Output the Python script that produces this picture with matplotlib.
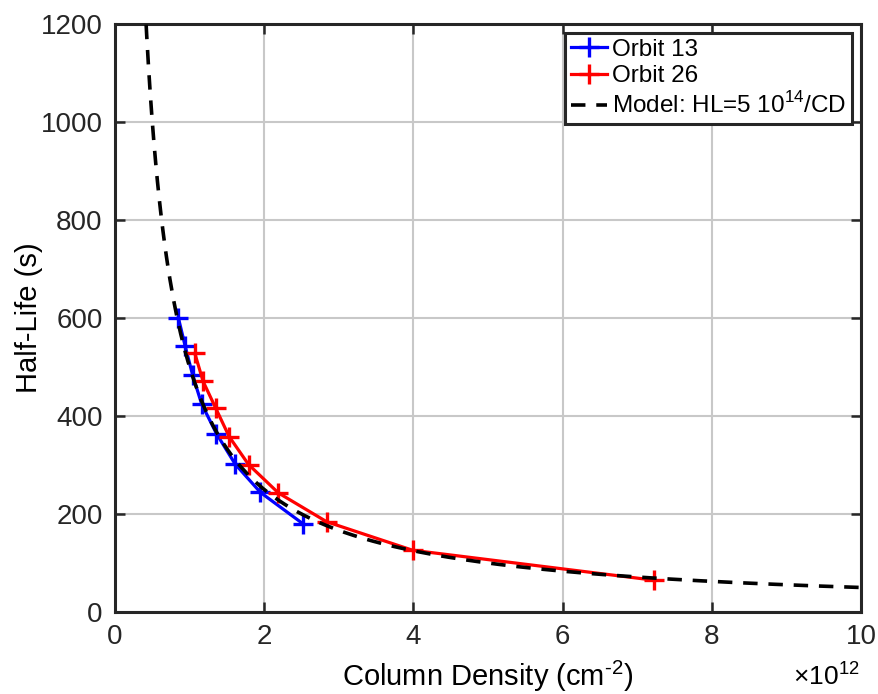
import numpy as np
import matplotlib
matplotlib.use("Agg")
from matplotlib import pyplot as plt

plt.rcParams['font.family'] = ['Liberation Sans', 'DejaVu Sans']
plt.rcParams['mathtext.fontset'] = 'custom'
plt.rcParams['mathtext.rm'] = 'Liberation Sans'

# column density in units of 1e12 cm^-2, half-life in s
orbit13_cd = [0.85, 0.94, 1.04, 1.16, 1.36, 1.61, 1.95, 2.52]
orbit13_hl = [600, 543, 484, 425, 364, 302, 244, 180]
orbit26_cd = [1.07, 1.18, 1.35, 1.53, 1.79, 2.19, 2.84, 3.99, 7.22]
orbit26_hl = [528, 471, 416, 358, 301, 243, 184, 126, 65]
model_coef = 5e14 / 1e12  # HL = 5 10^14 / CD

cd_model = np.linspace(0.4, 10, 400)
hl_model = model_coef / cd_model

fig = plt.figure(figsize=(8.79, 6.94), dpi=100)
ax = fig.add_axes([115/879, 1 - 612/694, (861-115)/879, (612-24)/694])

ax.plot(orbit13_cd, orbit13_hl, color='#0000ff', lw=2.3, marker='+', ms=14, mew=2.4,
        label='Orbit 13', zorder=3)
ax.plot(orbit26_cd, orbit26_hl, color='#ff0000', lw=2.3, marker='+', ms=14, mew=2.4,
        label='Orbit 26', zorder=3)
ax.plot(cd_model, hl_model, color='black', lw=2.6, ls=(0, (4, 3)),
        label='Model: HL=5 10$^{14}$/CD', zorder=4)

ax.set_xlim(0, 10)
ax.set_ylim(0, 1200)
ax.set_xticks(np.arange(0, 11, 2))
ax.set_yticks(np.arange(0, 1201, 200))
ax.grid(True, color='#c8c8c8', lw=1.5)
ax.tick_params(direction='in', length=7, width=1.8, labelsize=20, top=True, right=True,
               pad=9, colors='#262626')
for s in ax.spines.values():
    s.set_linewidth(2.2)
    s.set_color('#262626')

ax.set_xlabel('Column Density (cm$^{\u20102}$)', fontsize=21, labelpad=6)
ax.set_ylabel('Half-Life (s)', fontsize=21, labelpad=-2)
fig.text(860/879, 4/694, r'$\times$10$^{12}$', fontsize=19, ha='right', va='bottom')

leg = ax.legend(loc='upper right', fontsize=17.5, fancybox=False, framealpha=1,
                edgecolor='#262626', handlelength=1.5, handletextpad=0.2,
                borderpad=0.25, labelspacing=0.2, borderaxespad=0.35)
leg.get_frame().set_linewidth(2.2)

fig.savefig('out.png', dpi=100)
